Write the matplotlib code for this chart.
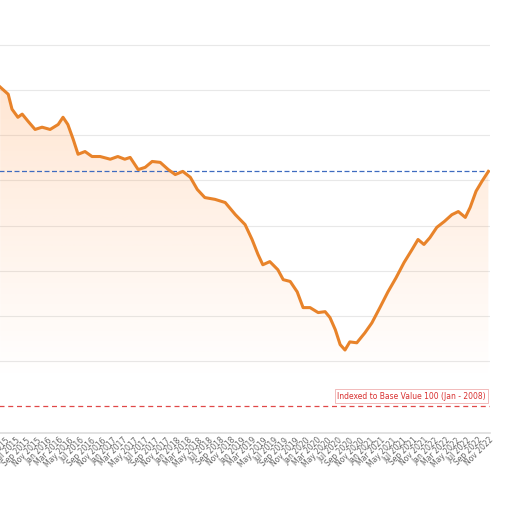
import numpy as np
import matplotlib.pyplot as plt
from matplotlib.path import Path
from matplotlib.patches import PathPatch
from matplotlib.colors import LinearSegmentedColormap

# months since Jan 2015, index value
months = [3.1, 4.6, 5.3, 6.4, 7.2, 8.3, 9.6, 10.9, 12.4, 13.9, 14.8, 15.7, 16.7, 17.6,
          18.9, 20.2, 21.7, 23.6, 25.0, 26.3, 27.3, 28.8, 30.1, 31.4, 32.9, 34.4, 35.7,
          37.1, 38.5, 39.8, 41.2, 43.1, 45.0, 46.9, 48.7, 50.0, 51.1, 52.0, 53.3, 54.8,
          55.8, 57.1, 58.4, 59.5, 60.8, 62.3, 63.6, 64.5, 65.5, 66.4, 67.3, 68.2, 69.5,
          71.0, 72.3, 73.8, 75.3, 76.8, 78.3, 79.8, 80.9, 82.0, 83.1, 84.4, 85.8, 87.2,
          88.4, 89.7, 90.6, 91.7, 92.8, 94.0]
values = [170.7, 169.1, 165.8, 164.0, 164.7, 163.1, 161.3, 161.8, 161.3, 162.4, 164.0,
          162.4, 159.1, 155.8, 156.4, 155.3, 155.3, 154.7, 155.3, 154.7, 155.1, 152.4,
          152.9, 154.2, 154.0, 152.4, 151.3, 152.0, 150.7, 148.0, 146.2, 145.8, 145.1,
          142.4, 140.2, 136.9, 133.6, 131.3, 132.0, 130.2, 128.0, 127.6, 125.3, 121.8,
          121.8, 120.7, 120.9, 119.6, 116.9, 113.6, 112.4, 114.2, 114.0, 116.2, 118.4,
          121.8, 125.3, 128.4, 131.8, 134.7, 136.9, 135.8, 137.3, 139.6, 140.9, 142.4,
          143.1, 141.8, 144.0, 147.6, 149.8, 152.0]
current_level = 152.0
base_value = 100
month_names = ["Jan", "Mar", "May", "Jul", "Sep", "Nov"]
tick_pos = [y * 12 + i * 2 for y in range(8) for i in range(6)]
tick_labels = [f"{month_names[i]} {2015 + y}" for y in range(8) for i in range(6)]

W = 508
fig = plt.figure(figsize=(5.08, 5.08), dpi=100)
x0 = -3.07 * 5.37
ax = fig.add_axes([x0 / W, 75 / W, (490 - x0) / W, 433 / W])
ax.set_xlim(0, 94.3)
ax.set_ylim(94, 190)

# gradient fill under the line, strong at top, fading out toward the bottom
xs = np.array(months)
ys = np.array(values)
verts = [(xs[0], 94)] + list(zip(xs, ys)) + [(xs[-1], 94)]
clip = PathPatch(Path(verts), facecolor="none", edgecolor="none")
ax.add_patch(clip)
grad = np.linspace(0, 1, 256).reshape(-1, 1)
cmap = LinearSegmentedColormap.from_list("g", [(1, 0.55, 0.2, 0.0), (1, 0.55, 0.2, 0.22)])
im = ax.imshow(grad, extent=[0, 94.3, 106, 172], origin="lower", aspect="auto",
               cmap=cmap, zorder=1)
im.set_clip_path(clip)

for g in range(110, 190, 10):
    ax.axhline(g, color="#e8e8e8", lw=0.8, zorder=0)
ax.axhline(current_level, color="#3f6cc0", lw=0.9, ls=(0, (4, 2)), zorder=2)
ax.axhline(base_value, color="#e04848", lw=0.9, ls=(0, (4, 3)), zorder=2)
ax.plot(xs, ys, color="#e8832a", lw=2.2, zorder=3)
ax.text(93.5, 101.2, "Indexed to Base Value 100 (Jan - 2008)", color="#d83030",
        fontsize=5.5, ha="right", va="bottom",
        bbox=dict(boxstyle="square,pad=0.3", fc="white", ec="#f0b0b0", lw=0.6), zorder=4)

ax.set_xticks(tick_pos)
ax.set_xticklabels(tick_labels, rotation=45, ha="right", rotation_mode="anchor",
                   fontsize=5.5, color="#666666")
ax.tick_params(axis="x", length=0, pad=2)
ax.set_yticks([])
for s in ["top", "left", "right"]:
    ax.spines[s].set_visible(False)
ax.spines["bottom"].set_color("#dddddd")
ax.spines["bottom"].set_linewidth(1.2)

fig.savefig("out.png", dpi=100)
